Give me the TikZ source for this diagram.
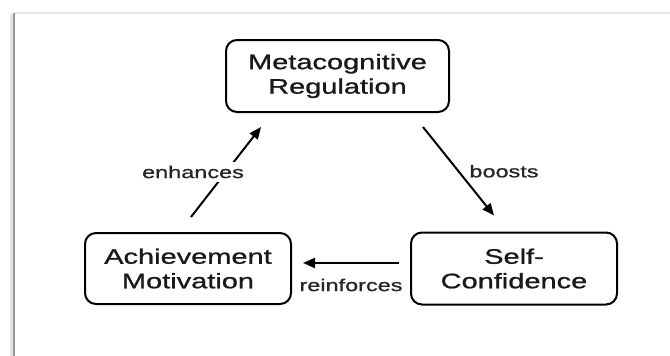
\documentclass[tikz,border=0pt]{standalone}
\usepackage{fontspec}
\setmainfont[FakeStretch=1.38, FakeBold=1]{Liberation Sans}
\usetikzlibrary{arrows.meta,calc}
\begin{document}
\begin{tikzpicture}[x=1pt,y=-1pt,
  box/.style={draw=black, line width=2pt, rounded corners=11pt, align=center,
    inner sep=0pt, font=\fontsize{21}{24.5}\selectfont, text=black!90},
  arr/.style={line width=2pt, -{Triangle[length=12pt,width=10pt]}},
  lbl/.style={font=\fontsize{17}{20}\selectfont, text=black!85, inner sep=4pt}]
\useasboundingbox (0,0) rectangle (670,356);
\fill[white] (0,0) rectangle (670,356);
% card frame
\draw[line width=1.2pt, black!10] (14,13) -- (670,13);
\draw[line width=3pt, black!10] (11.5,14) -- (11.5,356);
\draw[line width=1.5pt, black!40] (14,13) -- (14,356);
% nodes
\node[box, minimum width=223pt, minimum height=72pt] (meta) at (337.5,76) {Metacognitive\\Regulation};
\node[box, minimum width=206pt, minimum height=71pt] (ach) at (188,268.5) {Achievement\\Motivation};
\node[box, minimum width=206pt, minimum height=72pt] (sc) at (514,268.5) {Self-\\Confidence};
% connectors
\draw[arr] ($(ach.north)+(3,-15)$) -- ($(meta.south)+(-76.5,14)$)
  node[lbl, midway, xshift=-33pt, fill=white] (enh) {enhances};
\draw[arr] ($(meta.south)+(85.5,14)$) -- ($(sc.north)+(-20,-16)$)
  node[lbl, midway, xshift=45.5pt] (boo) {boosts};
\draw[arr] ($(sc.west)+(-11,-5.5)$) -- ($(ach.east)+(11,-5.5)$)
  node[lbl, midway, yshift=-22pt] (rei) {reinforces};
\end{tikzpicture}
\end{document}
